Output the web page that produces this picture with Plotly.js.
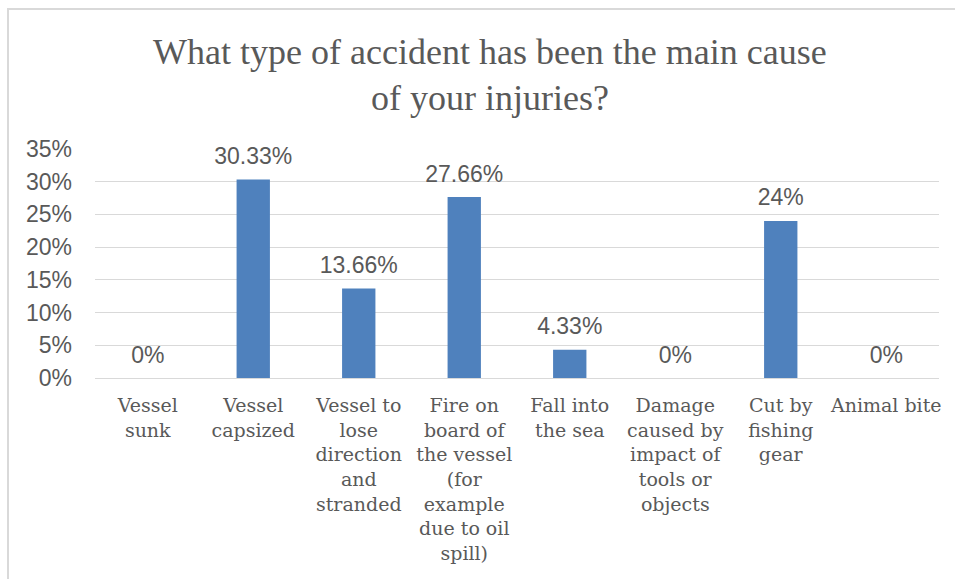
<!DOCTYPE html>
<html>
<head>
<meta charset="utf-8">
<script src="https://cdn.plot.ly/plotly-3.0.1.min.js"></script>
<style>
  html, body { margin: 0; padding: 0; background: #ffffff; }
  #wrap { position: relative; width: 955px; height: 579px; overflow: hidden; }
  #chart { width: 955px; height: 579px; }
  #frame { position: absolute; left: 7px; top: 8px; width: 960px; height: 600px;
           border-left: 2px solid #d9d9d9; border-top: 2px solid #d9d9d9; pointer-events: none; }
</style>
</head>
<body>
<div id="wrap">
  <div id="chart"></div>
  <div id="frame"></div>
</div>
<script>
const categories = [
  "Vessel<br>sunk",
  "Vessel<br>capsized",
  "Vessel to<br>lose<br>direction<br>and<br>stranded",
  "Fire on<br>board of<br>the vessel<br>(for<br>example<br>due to oil<br>spill)",
  "Fall into<br>the sea",
  "Damage<br>caused by<br>impact of<br>tools or<br>objects",
  "Cut by<br>fishing<br>gear",
  "Animal bite"
];
const values = [0, 0.3033, 0.1366, 0.2766, 0.0433, 0, 0.24, 0];
const valueLabels = ["0%", "30.33%", "13.66%", "27.66%", "4.33%", "0%", "24%", "0%"];
const tickValues = [0, 0.05, 0.10, 0.15, 0.20, 0.25, 0.30, 0.35];
const tickLabels = ["0%", "5%", "10%", "15%", "20%", "25%", "30%", "35%"];

const grey = "#595959";
const bars = {
  type: "bar",
  x: categories,
  y: values,
  marker: { color: "#4f81bd", line: { width: 0 } },
  hoverinfo: "none"
};
const labels = {
  type: "scatter",
  mode: "markers+text",
  x: categories,
  y: values,
  text: valueLabels,
  textposition: "top center",
  cliponaxis: false,
  marker: { size: 14, opacity: 0, color: "#ffffff" },
  textfont: { family: "Liberation Sans, Arial, sans-serif", size: 23, color: grey },
  hoverinfo: "none"
};

const layout = {
  width: 955, height: 579,
  margin: { l: 95, r: 16, t: 149, b: 201 },
  paper_bgcolor: "#ffffff",
  plot_bgcolor: "#ffffff",
  bargap: 0.684,
  showlegend: false,
  title: {
    text: "What type of accident has been the main cause<br>of your injuries?",
    font: { family: "Liberation Serif, serif", size: 36, color: grey },
    x: 0.513, xanchor: "center",
    y: 0.89, yanchor: "top", yref: "container"
  },
  xaxis: {
    type: "category",
    tickfont: { family: "DejaVu Serif, serif", size: 19, color: grey },
    showgrid: false,
    showline: true, linecolor: "#d9d9d9", linewidth: 1,
    ticks: "", tickangle: 0,
    ticklabelstandoff: 10,
    fixedrange: true
  },
  yaxis: {
    range: [0, 0.35],
    tickvals: tickValues,
    ticktext: tickLabels,
    tickfont: { family: "Liberation Sans, Arial, sans-serif", size: 23, color: grey },
    showgrid: true, gridcolor: "#d9d9d9", gridwidth: 1,
    zeroline: false, showline: false, ticks: "",
    ticklabelstandoff: 22,
    fixedrange: true
  }
};

Plotly.newPlot("chart", [bars, labels], layout, { displayModeBar: false, staticPlot: true });
</script>
</body>
</html>
